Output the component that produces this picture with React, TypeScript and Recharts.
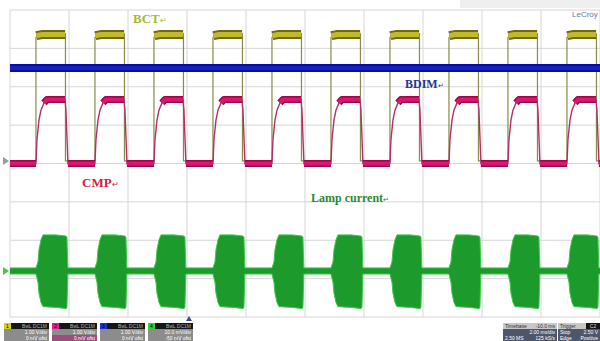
import React from "react";
import { ComposedChart, Line, Area, XAxis, YAxis, CartesianGrid } from "recharts";

// screen is 10 x 8 divisions; every trace repeats once per division (2 ms/div)
const pulseStarts = [0.44, 1.44, 2.44, 3.44, 4.44, 5.44, 6.44, 7.44, 8.44, 9.44];

// BCT (yellow) - one period, offsets from pulse start
const bctOffsets = [0, 0, 0.1, 0.5, 0.5];
const bctLevels = [4.07, 7.28, 7.38, 7.38, 4.07];
const bctLow = 4.07;
const bctHigh = 7.36;

// BDIM (blue) - flat
const bdimTimes = [0, 10];
const bdimLevels = [6.49, 6.49];

// CMP (magenta) - one period
const cmpOffsets = [0, 0.017, 0.051, 0.085, 0.136, 0.186, 0.492, 0.508, 0.542];
const cmpLevels = [4.0, 4.62, 5.13, 5.39, 5.58, 5.67, 5.67, 5.39, 4.0];
const cmpLow = 4.0;

// Lamp current (green) - burst envelope, one period
const lampOffsets = [0, 0.034, 0.051, 0.085, 0.119, 0.34, 0.508, 0.525, 0.54];
const lampTop = [1.28, 1.43, 1.75, 2.01, 2.14, 2.14, 2.11, 2.08, 1.28];
const lampBottom = [1.12, 0.91, 0.62, 0.38, 0.27, 0.25, 0.22, 0.24, 1.12];
const lampIdle = [1.12, 1.28];

const channels = [
  { name: "C1", color: "#d8d020", scale: "1.00 V/div", ofs: "0 mV ofst", low: "#8c8c8c" },
  { name: "C2", color: "#e0208a", scale: "1.00 V/div", ofs: "0 mV ofst", low: "#a04a80" },
  { name: "C3", color: "#2030d0", scale: "1.00 V/div", ofs: "0 mV ofst", low: "#8c8c8c" },
  { name: "C4", color: "#30d030", scale: "10.0 mV/div", ofs: "-50 mV ofst", low: "#8c8c8c" },
];

type Row = { t: number; v: number | null };

function trace(offsets: number[], levels: number[], base: number): Row[] {
  const rows: Row[] = [{ t: 0, v: base }];
  pulseStarts.forEach((t0) => offsets.forEach((o, i) => rows.push({ t: t0 + o, v: levels[i] })));
  rows.push({ t: 10, v: base });
  return rows;
}

// thick noisy flat parts, broken by nulls
function bands(parts: [number, number][][]): Row[] {
  const rows: Row[] = [];
  parts.forEach((seg) => {
    seg.forEach(([t, v]) => rows.push({ t, v }));
    rows.push({ t: seg[seg.length - 1][0], v: null });
  });
  return rows;
}

const bctData = trace(bctOffsets, bctLevels, bctLow);
const bctBand = bands(pulseStarts.map((t0) => [[t0 + 0.006, bctHigh - 0.03], [t0 + 0.1, bctHigh], [t0 + 0.494, bctHigh]]));
const cmpData = trace(cmpOffsets, cmpLevels, cmpLow);
const cmpBand = bands([
  [[0, cmpLow], [pulseStarts[0], cmpLow]],
  ...pulseStarts.map((t0) => [
    [t0 + cmpOffsets[4], cmpLevels[4]],
    [t0 + cmpOffsets[5], cmpLevels[5]],
    [t0 + cmpOffsets[6], cmpLevels[6]],
  ] as [number, number][]),
  ...pulseStarts.map((t0, k) => [
    [t0 + cmpOffsets[8], cmpLow],
    [k + 1 < pulseStarts.length ? pulseStarts[k + 1] : 10, cmpLow],
  ] as [number, number][]),
]);
const bdimData = bdimTimes.map((t, i) => ({ t, v: bdimLevels[i] }));
const lampData = (() => {
  const rows: { t: number; env: number[] }[] = [{ t: 0, env: lampIdle }];
  pulseStarts.forEach((t0) =>
    lampOffsets.forEach((o, i) => rows.push({ t: t0 + o, env: [lampBottom[i], lampTop[i]] }))
  );
  rows.push({ t: 10, env: lampIdle });
  return rows;
})();

const label = (text: string, color: string, left: number, top: number, size: number) => (
  <div
    style={{
      position: "absolute",
      left,
      top,
      color,
      fontFamily: "'Liberation Serif', serif",
      fontWeight: "bold",
      fontSize: size,
      lineHeight: 1,
      whiteSpace: "nowrap",
    }}
  >
    {text}
    <span style={{ fontSize: size * 0.6, fontWeight: "normal" }}>↵</span>
  </div>
);

export default function App() {
  return (
    <div style={{ position: "absolute", left: 0, top: 0, width: 600, height: 341, background: "#fff", overflow: "hidden" }}>
      <div style={{ position: "absolute", left: 460, top: 0, width: 140, height: 8, background: "#efefef" }} />
      <ComposedChart width={600} height={341} margin={{ top: 10, right: 0, left: 10, bottom: 24 }}>
        <XAxis type="number" dataKey="t" domain={[0, 10]} ticks={[0, 1, 2, 3, 4, 5, 6, 7, 8, 9, 10]} hide allowDataOverflow />
        <YAxis type="number" domain={[0, 8]} ticks={[0, 1, 2, 3, 4, 5, 6, 7, 8]} hide allowDataOverflow />
        <CartesianGrid stroke="#d6d6d6" strokeWidth={1} />
        <Area data={lampData} dataKey="env" type="linear" fill="#1d9a2c" fillOpacity={1} stroke="#3cc84a" strokeWidth={1} isAnimationActive={false} />
        <Line data={bctData} dataKey="v" type="linear" stroke="#8a8a4a" strokeWidth={1.2} dot={false} isAnimationActive={false} />
        <Line data={bctBand} dataKey="v" type="linear" stroke="#6e6a12" strokeWidth={9} strokeLinejoin="round" dot={false} connectNulls={false} isAnimationActive={false} />
        <Line data={bctBand} dataKey="v" type="linear" stroke="#c2b92c" strokeWidth={5} strokeLinejoin="round" dot={false} connectNulls={false} isAnimationActive={false} />
        <Line data={cmpData} dataKey="v" type="linear" stroke="#b0306a" strokeWidth={1.4} dot={false} isAnimationActive={false} />
        <Line data={cmpBand} dataKey="v" type="linear" stroke="#9a0848" strokeWidth={7} strokeLinejoin="round" dot={false} connectNulls={false} isAnimationActive={false} />
        <Line data={cmpBand} dataKey="v" type="linear" stroke="#d81870" strokeWidth={4} strokeLinejoin="round" dot={false} connectNulls={false} isAnimationActive={false} />
        <Line data={bdimData} dataKey="v" type="linear" stroke="#0a0e9e" strokeWidth={8} dot={false} isAnimationActive={false} />
        <Line data={bdimData} dataKey="v" type="linear" stroke="#1620c0" strokeWidth={4} dot={false} isAnimationActive={false} />
      </ComposedChart>

      {label("BCT", "#a8b836", 133, 12, 13)}
      {label("BDIM", "#24349a", 405, 78, 12)}
      {label("CMP", "#d42044", 82, 176, 13)}
      {label("Lamp current", "#2a8a36", 311, 192, 12)}
      <div style={{ position: "absolute", left: 572, top: 10, fontSize: 8, color: "#6a7896", fontFamily: "'Liberation Sans', sans-serif" }}>LeCroy</div>

      <div style={{ position: "absolute", left: 3, top: 157, width: 0, height: 0, borderTop: "4px solid transparent", borderBottom: "4px solid transparent", borderLeft: "6px solid #9a9a9a" }} />
      <div style={{ position: "absolute", left: 3, top: 267, width: 0, height: 0, borderTop: "4px solid transparent", borderBottom: "4px solid transparent", borderLeft: "6px solid #46c846" }} />
      <div style={{ position: "absolute", left: 186, top: 316, width: 0, height: 0, borderLeft: "3px solid transparent", borderRight: "3px solid transparent", borderBottom: "5px solid #3a4a9a" }} />

      {channels.map((c, i) => (
        <div
          key={c.name}
          style={{
            position: "absolute",
            left: 4 + i * 48,
            top: 323,
            width: 45,
            height: 18,
            background: "#8c8c8c",
            fontFamily: "'Liberation Sans', sans-serif",
            fontSize: 5,
            lineHeight: "6px",
            color: "#fff",
          }}
        >
          <div style={{ height: 6, background: "#161616", display: "flex" }}>
            <div style={{ width: 7, height: 6, background: c.color, color: "#000", textAlign: "center" }}>{c.name[1]}</div>
            <div style={{ flex: 1, textAlign: "right", paddingRight: 2, color: "#b0b0b0" }}>BwL DC1M</div>
          </div>
          <div style={{ textAlign: "right", paddingRight: 2 }}>{c.scale}</div>
          <div style={{ textAlign: "right", paddingRight: 2, background: c.low }}>{c.ofs}</div>
        </div>
      ))}

      <div style={{ position: "absolute", left: 503, top: 323, width: 54, height: 18, background: "#4e566c", fontFamily: "'Liberation Sans', sans-serif", fontSize: 5, lineHeight: "6px", color: "#fff" }}>
        <div style={{ background: "#c8c8c8", color: "#333", display: "flex", justifyContent: "space-between", padding: "0 2px" }}>
          <span>Timebase</span>
          <span>-10.0 ms</span>
        </div>
        <div style={{ textAlign: "right", paddingRight: 2 }}>2.00 ms/div</div>
        <div style={{ display: "flex", justifyContent: "space-between", padding: "0 2px" }}>
          <span>2.50 MS</span>
          <span>125 kS/s</span>
        </div>
      </div>
      <div style={{ position: "absolute", left: 558, top: 323, width: 42, height: 18, background: "#4e566c", fontFamily: "'Liberation Sans', sans-serif", fontSize: 5, lineHeight: "6px", color: "#fff" }}>
        <div style={{ background: "#c8c8c8", color: "#333", display: "flex" }}>
          <span style={{ paddingLeft: 2, flex: 1 }}>Trigger</span>
          <span style={{ background: "#161616", color: "#ddd", width: 14, textAlign: "center" }}>C2</span>
        </div>
        <div style={{ display: "flex", justifyContent: "space-between", padding: "0 2px" }}>
          <span>Stop</span>
          <span>2.50 V</span>
        </div>
        <div style={{ display: "flex", justifyContent: "space-between", padding: "0 2px" }}>
          <span>Edge</span>
          <span>Positive</span>
        </div>
      </div>
    </div>
  );
}
